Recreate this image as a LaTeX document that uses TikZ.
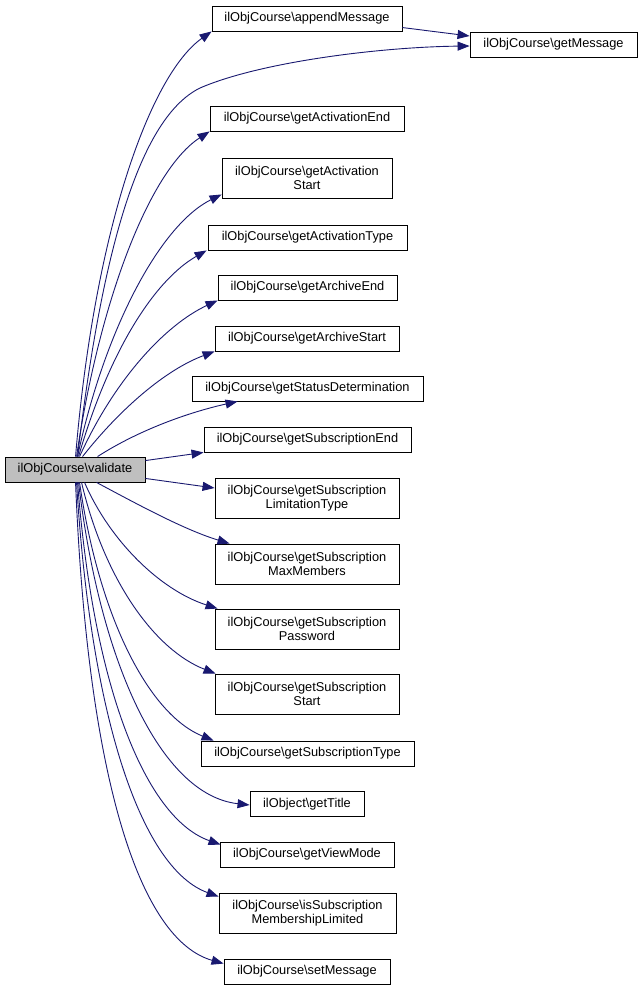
\documentclass[tikz,border=0pt]{standalone}
\usepackage{fontspec}
\setmainfont{Liberation Sans}
\usetikzlibrary{arrows.meta}
\definecolor{edgeblue}{HTML}{191970}
\definecolor{rootgray}{HTML}{BFBFBF}
\begin{document}
\begin{tikzpicture}[x=1pt,y=-1pt,
  fnbox/.style={draw=black, line width=0.9pt, fill=white, inner sep=0pt, align=center,
    font=\fontsize{12.8}{14.5}\selectfont, minimum height=25pt},
  twoline/.style={minimum height=40pt},
  call/.style={draw=edgeblue, line width=0.9pt, -{Triangle[length=12pt,width=9pt]}, edgeblue}
]
\useasboundingbox[fill=white] (0,0) rectangle (641,991);

% nodes
\node[fnbox, fill=rootgray, minimum width=140pt] (val) at (75,469.5) {ilObjCourse\textbackslash validate};
\node[fnbox, minimum width=190pt] (app) at (307,18.5) {ilObjCourse\textbackslash appendMessage};
\node[fnbox, minimum width=167pt] (gmsg) at (553.5,44.5) {ilObjCourse\textbackslash getMessage};
\node[fnbox, minimum width=194pt] (aend) at (307,118.5) {ilObjCourse\textbackslash getActivationEnd};
\node[fnbox, twoline, minimum width=170pt] (astart) at (307,178) {ilObjCourse\textbackslash getActivation\\Start};
\node[fnbox, minimum width=199pt] (atype) at (307.5,237.5) {ilObjCourse\textbackslash getActivationType};
\node[fnbox, minimum width=179pt] (arend) at (307.5,287.5) {ilObjCourse\textbackslash getArchiveEnd};
\node[fnbox, minimum width=184pt] (arstart) at (307,338.5) {ilObjCourse\textbackslash getArchiveStart};
\node[fnbox, minimum width=231pt] (stat) at (307.5,388.5) {ilObjCourse\textbackslash getStatusDetermination};
\node[fnbox, minimum width=207pt] (send) at (307.5,439.5) {ilObjCourse\textbackslash getSubscriptionEnd};
\node[fnbox, twoline, minimum width=184pt] (slim) at (307,498) {ilObjCourse\textbackslash getSubscription\\LimitationType};
\node[fnbox, twoline, minimum width=184pt] (smax) at (307,564) {ilObjCourse\textbackslash getSubscription\\MaxMembers};
\node[fnbox, twoline, minimum width=184pt] (spass) at (307,629) {ilObjCourse\textbackslash getSubscription\\Password};
\node[fnbox, twoline, minimum width=184pt] (sstart) at (307,694) {ilObjCourse\textbackslash getSubscription\\Start};
\node[fnbox, minimum width=213pt] (stype) at (307.5,753.5) {ilObjCourse\textbackslash getSubscriptionType};
\node[fnbox, minimum width=114pt] (title) at (307,804) {ilObject\textbackslash getTitle};
\node[fnbox, minimum width=174pt] (view) at (307,854.5) {ilObjCourse\textbackslash getViewMode};
\node[fnbox, twoline, minimum width=177pt] (ismem) at (307.5,913) {ilObjCourse\textbackslash isSubscription\\MembershipLimited};
\node[fnbox, minimum width=166pt] (smsg) at (307,971.5) {ilObjCourse\textbackslash setMessage};

% connectors (upward)
\draw[call] (val.north west) ++(71,0) .. controls +(19,-227) and (150,75) .. (app.south west);
\draw[call] (val.north west) ++(73,0) .. controls +(22,-187) and (135,120) .. (200,88)
   .. controls (260,62) and (380,47) .. ([yshift=-1.5pt]gmsg.west);
\draw[call] ([yshift=-22pt]app.north east) -- ([yshift=8.5pt]gmsg.west);
\draw[call] (val.north west) ++(72,0) .. controls +(23,-157) and (150,170) .. (aend.south west);
\draw[call] (val.north west) ++(73,0) .. controls +(27,-127) and (160,225) .. ([yshift=4pt]astart.south west);
\draw[call] (val.north west) ++(74,0) .. controls +(31,-107) and (155,280) .. ([xshift=-1pt]atype.south west);
\draw[call] (val.north west) ++(75,0) .. controls +(35,-77) and (165,325) .. (arend.south west);
\draw[call] (val.north west) ++(78,0) .. controls +(37,-47) and (165,370) .. (arstart.south west);
\draw[call] (val.north west) ++(93,0) .. controls +(42,-27) and (190,412) .. ([xshift=46pt]stat.south west);
\draw[call] ([yshift=-4pt]val.north east) -- (send.south west);
\draw[call] ([yshift=4pt]val.south east) -- ([yshift=10pt]slim.west);

% connectors (downward)
\draw[call] (val.south west) ++(92,0) .. controls +(43,23) and (185,530) .. ([xshift=15pt]smax.north west);
\draw[call] (val.south west) ++(80,0) .. controls +(25,58) and (160,590) .. ([xshift=3pt]spass.north west);
\draw[call] (val.south west) ++(77,0) .. controls +(23,98) and (155,650) .. ([xshift=1pt]sstart.north west);
\draw[call] (val.south west) ++(75,0) .. controls +(20,138) and (150,715) .. ([xshift=13pt]stype.north west);
\draw[call] (val.south west) ++(74,0) .. controls +(21,178) and (160,795) .. ([yshift=-1pt]title.west);
\draw[call] (val.south west) ++(73,0) .. controls +(17,218) and (150,820) .. ([xshift=1pt,yshift=-3pt]view.north west);
\draw[call] (val.south west) ++(72,0) .. controls +(15,248) and (145,870) .. ([yshift=-4pt]ismem.north west);
\draw[call] (val.south west) ++(71,0) .. controls +(12,298) and (140,940) .. ([yshift=-5pt]smsg.north west);
\end{tikzpicture}
\end{document}
